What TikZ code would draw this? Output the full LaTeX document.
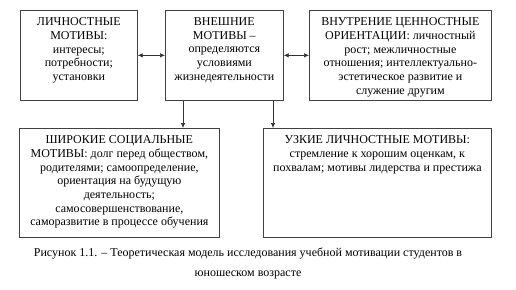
\documentclass[tikz,border=0pt]{standalone}
\usepackage{fontspec}
\setmainfont{Liberation Serif}
\usetikzlibrary{arrows.meta}
\begin{document}
\begin{tikzpicture}[x=1pt,y=-1pt,
  box/.style={draw=black!75,line width=0.7pt,rectangle,inner sep=0pt,anchor=north west},
  txt/.style={anchor=north,align=center,inner sep=0pt,font=\fontsize{12}{13.7}\selectfont},
  arr/.style={draw=black!80,line width=0.7pt,-{Latex[length=5pt,width=4.5pt]}},
  darr/.style={draw=black!80,line width=0.7pt,{Latex[length=5pt,width=4.5pt]}-{Latex[length=5pt,width=4.5pt]}}]
\useasboundingbox (0,0) rectangle (516,289);
\node[box,minimum width=117pt,minimum height=90pt] (b1) at (20,10) {};
\node[box,minimum width=118pt,minimum height=90pt] (b2) at (165,10) {};
\node[box,minimum width=182pt,minimum height=90pt] (b3) at (309,10) {};
\node[box,minimum width=200pt,minimum height=109pt] (b4) at (19,128) {};
\node[box,minimum width=228pt,minimum height=109pt] (b5) at (263,128) {};
\node[txt] (t1) at ([yshift=-7.5]b1.north) {ЛИЧНОСТНЫЕ\\МОТИВЫ:\\интересы;\\потребности;\\установки};
\node[txt] (t2) at ([yshift=-7.5]b2.north) {ВНЕШНИЕ\\МОТИВЫ –\\определяются\\условиями\\жизнедеятельности};
\node[txt] (t3) at ([yshift=-7.5]b3.north) {ВНУТРЕНИЕ ЦЕННОСТНЫЕ\\ОРИЕНТАЦИИ: личностный\\рост; межличностные\\отношения; интеллектуально-\\эстетическое развитие и\\служение другим};
\node[txt] (t4) at ([yshift=-7.5]b4.north) {ШИРОКИЕ СОЦИАЛЬНЫЕ\\МОТИВЫ: долг перед обществом,\\родителями; самоопределение,\\ориентация на будущую\\деятельность;\\самосовершенствование,\\саморазвитие в процессе обучения};
\node[txt] (t5) at ([yshift=-7.5]b5.north) {УЗКИЕ ЛИЧНОСТНЫЕ МОТИВЫ:\\стремление к хорошим оценкам, к\\похвалам; мотивы лидерства и престижа};
\draw[darr] (b1.east) -- (b2.west);
\draw[darr] (b2.east) -- (b3.west);
\draw[arr] ([xshift=18]b2.south west) -- ([xshift=18]b2.south west |- b4.north);
\draw[arr] ([xshift=108]b2.south west) -- ([xshift=108]b2.south west |- b5.north);
\node[anchor=center,inner sep=0pt,font=\fontsize{12}{13.7}\selectfont] (cap1) at (248,253) {Рисунок 1.1. – Теоретическая модель исследования учебной мотивации студентов в};
\node[anchor=center,inner sep=0pt,font=\fontsize{12}{13.7}\selectfont] (cap2) at (248,275) {юношеском возрасте};
\end{tikzpicture}
\end{document}
